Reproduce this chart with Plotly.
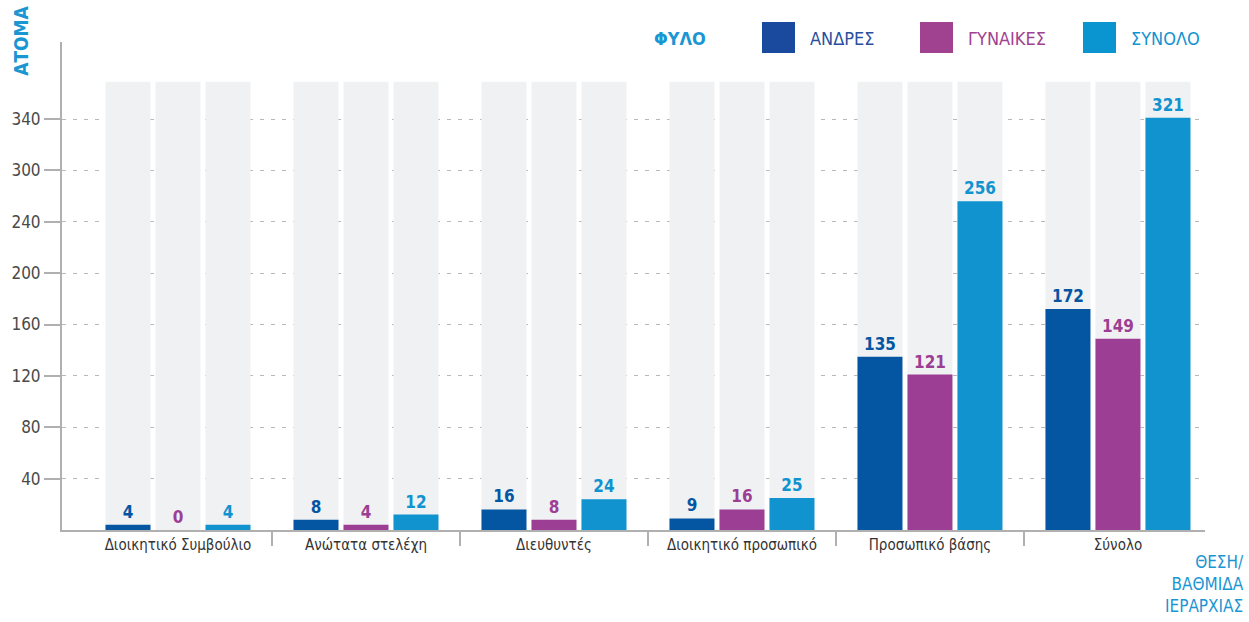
import plotly.graph_objects as go

categories = ["Διοικητικό Συμβούλιο", "Ανώτατα στελέχη", "Διευθυντές",
              "Διοικητικό προσωπικό", "Προσωπικό βάσης", "Σύνολο"]
men = [4, 8, 16, 9, 135, 172]
women = [0, 4, 8, 16, 121, 149]
total = [4, 12, 24, 25, 256, 321]
series_names = ["ΑΝΔΡΕΣ", "ΓΥΝΑΙΚΕΣ", "ΣΥΝΟΛΟ"]
tick_vals = [40, 80, 120, 160, 200, 240, 280, 320]
tick_text = ["40", "80", "120", "160", "200", "240", "300", "340"]
bg_value = 349

FONT = "DejaVu Sans Condensed, Liberation Sans Narrow, sans-serif"
bar_colors = ["#0556a2", "#9c3e93", "#1193d0"]
legend_colors = ["#1a4a9e", "#a0428f", "#0a94d0"]
text_colors = ["#2a4f9e", "#a0428f", "#1193d0"]
blue_lbl = "#1a96d2"

BW = 45 / 188
GAP = 5 / 188
offsets = [-1.5 * BW - GAP, -0.5 * BW, 0.5 * BW + GAP]

x = list(range(len(categories)))
fig = go.Figure()

for off in offsets:
    fig.add_trace(go.Bar(x=x, y=[bg_value] * len(x), offset=off, width=BW,
                         marker=dict(color="#f0f1f3", line=dict(width=0), cornerradius=0),
                         hoverinfo="skip", showlegend=False))

for off, vals, col, name in zip(offsets, [men, women, total], bar_colors, series_names):
    fig.add_trace(go.Bar(x=x, y=vals, offset=off, width=BW, name=name,
                         marker=dict(color=col, line=dict(width=0), cornerradius=8),
                         text=[str(v) for v in vals], textposition="outside",
                         textfont=dict(family=FONT, size=17, color=col, weight="bold"),
                         cliponaxis=False, showlegend=False))

fig.update_layout(
    width=1249, height=622,
    margin=dict(l=62, r=44, t=42, b=92, autoexpand=False),
    paper_bgcolor="white", plot_bgcolor="white",
    barmode="overlay",
    font=dict(family=FONT, size=15, color="#333333"),
    xaxis=dict(range=[-0.617, 5.463], tickvals=x, ticktext=categories,
               ticks="", showgrid=False, zeroline=False, automargin=False,
               showline=True, linecolor="#b0b0b0", linewidth=2,
               tickfont=dict(family=FONT, size=15, color="#333333")),
    xaxis2=dict(overlaying="x", range=[-0.617, 5.463], side="bottom",
                tickvals=[0.5, 1.5, 2.5, 3.5, 4.5], showticklabels=False,
                ticks="outside", ticklen=15, tickwidth=2, tickcolor="#b0b0b0",
                showgrid=False, zeroline=False, showline=False, automargin=False),
    yaxis=dict(range=[0, 380], tickvals=tick_vals, ticktext=tick_text,
               ticks="outside", ticklen=16, tickwidth=2, tickcolor="#b0b0b0",
               showgrid=True, gridcolor="#b8b8b8", gridwidth=1, griddash="4px,7px",
               zeroline=False, showline=True, linecolor="#b0b0b0", linewidth=2,
               automargin=False,
               tickfont=dict(family=FONT, size=17, color="#4a4a4a")),
)
fig.add_trace(go.Scatter(x=[0], y=[0], xaxis="x2", mode="markers",
                         marker=dict(opacity=0), hoverinfo="skip", showlegend=False))

# axis titles
fig.add_annotation(text="ΑΤΟΜΑ", xref="paper", yref="paper", x=-0.036, y=1.0,
                   xanchor="center", yanchor="bottom", textangle=-90, showarrow=False,
                   yshift=-36, font=dict(family=FONT, size=19, color=blue_lbl, weight="bold"))
fig.add_annotation(text="ΘΕΣΗ/<br>ΒΑΘΜΙΔΑ<br>ΙΕΡΑΡΧΙΑΣ", xref="paper", yref="paper",
                   x=(1246 - 62) / 1143, y=0, xanchor="right", yanchor="top", align="right",
                   yshift=-20, showarrow=False,
                   font=dict(family=FONT, size=17, color=blue_lbl))

# custom legend
fig.add_annotation(text="ΦΥΛΟ", xref="paper", yref="paper", x=(680 - 62) / 1143,
                   y=(622 - 38 - 92) / 488, xanchor="center", yanchor="middle",
                   showarrow=False, font=dict(family=FONT, size=18, color=blue_lbl, weight="bold"))
sw_left = [762, 920, 1083]
for sx, col, tcol, name in zip(sw_left, legend_colors, text_colors, series_names):
    fig.add_shape(type="rect", xref="paper", yref="paper",
                  x0=(sx - 62) / 1143, x1=(sx + 33 - 62) / 1143,
                  y0=(622 - 53 - 92) / 488, y1=(622 - 22 - 92) / 488,
                  fillcolor=col, line=dict(width=0))
    fig.add_annotation(text=name, xref="paper", yref="paper",
                       x=(sx + 46 - 62) / 1143, y=(622 - 38 - 92) / 488,
                       xanchor="left", yanchor="middle", showarrow=False,
                       font=dict(family=FONT, size=18, color=tcol))

fig.write_html("out.html", config={"displayModeBar": False},
               post_script="document.body.style.margin='0';")
